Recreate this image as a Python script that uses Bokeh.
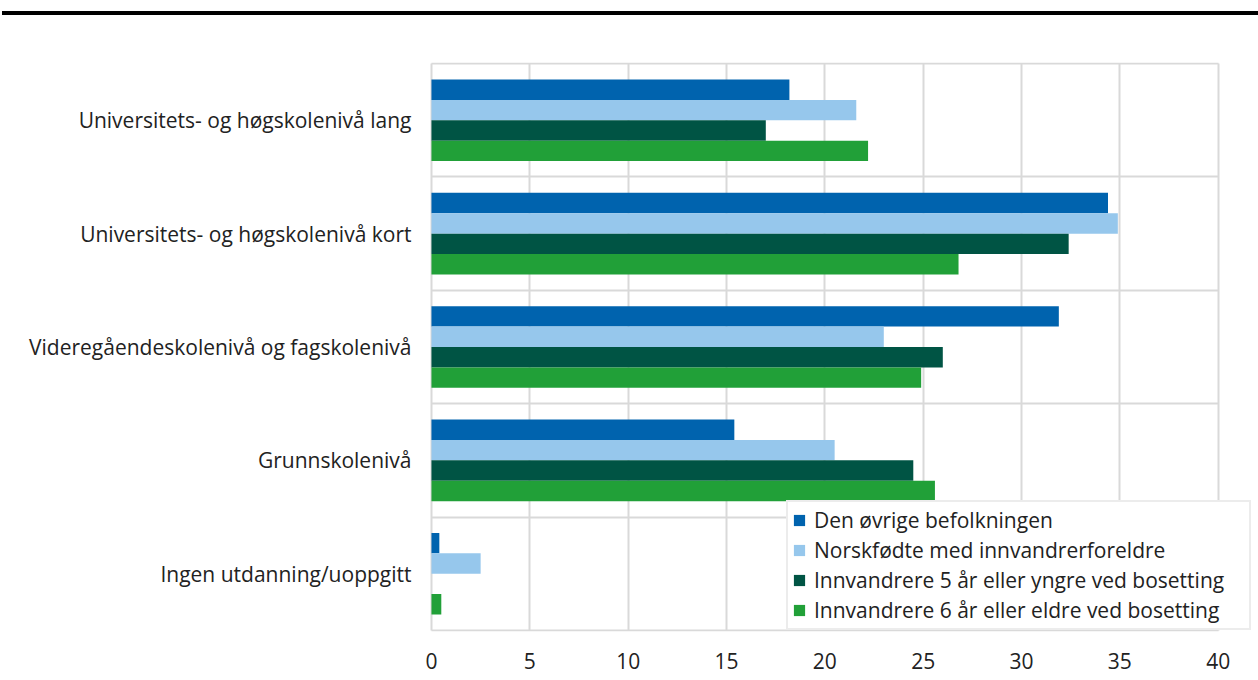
from bokeh.plotting import figure
from bokeh.models import Range1d, FixedTicker, Legend, LegendItem, Div, ColumnDataSource
from bokeh.layouts import column
from bokeh.embed import file_html
from bokeh.resources import INLINE

categories = [
    "Universitets- og høgskolenivå lang",
    "Universitets- og høgskolenivå kort",
    "Videregåendeskolenivå og fagskolenivå",
    "Grunnskolenivå",
    "Ingen utdanning/uoppgitt",
]
series_names = [
    "Den øvrige befolkningen",
    "Norskfødte med innvandrerforeldre",
    "Innvandrere 5 år eller yngre ved bosetting",
    "Innvandrere 6 år eller eldre ved bosetting",
]
den_ovrige = [18.2, 34.4, 31.9, 15.4, 0.4]
norskfodte = [21.6, 34.9, 23.0, 20.5, 2.5]
innv_5 = [17.0, 32.4, 26.0, 24.5, 0.0]
innv_6 = [22.2, 26.8, 24.9, 25.6, 0.5]
x_ticks = [0, 5, 10, 15, 20, 25, 30, 35, 40]

colors = ["#0063ae", "#96c7ec", "#005444", "#21a038"]
values = [den_ovrige, norskfodte, innv_5, innv_6]

n = len(categories)
centers = [n - i - 0.5 for i in range(n)]
bar_h = 0.18
offsets = [1.5 * bar_h, 0.5 * bar_h, -0.5 * bar_h, -1.5 * bar_h]

FONT = "Open Sans"
FS = "21px"
GRID = "#d9d9d9"

# x range extends a little past 40 so the legend box can reach beyond the last gridline
p = figure(
    frame_width=826, frame_height=569,
    min_border_left=429, min_border_right=3, min_border_top=47, min_border_bottom=49,
    x_range=Range1d(-0.1, 41.9), y_range=Range1d(-0.01, n + 0.01),
    output_backend="svg", toolbar_location=None,
)
p.outline_line_color = None
p.background_fill_color = "white"
p.border_fill_color = "white"

renderers = []
for vals, col, off in zip(values, colors, offsets):
    src = ColumnDataSource(dict(y=[c + off for c in centers], right=vals))
    r = p.hbar(y="y", right="right", left=0, height=bar_h, source=src,
               fill_color=col, line_color=None)
    renderers.append(r)

p.xaxis.ticker = FixedTicker(ticks=x_ticks)
p.xaxis.axis_line_color = None
p.xaxis.major_tick_line_color = None
p.xaxis.minor_tick_line_color = None
p.xaxis.major_label_text_font = FONT
p.xaxis.major_label_text_font_size = FS
p.xaxis.major_label_text_color = "#222222"
p.xaxis.major_label_standoff = 15

p.yaxis.ticker = FixedTicker(ticks=centers)
p.yaxis.major_label_overrides = {c: cat for c, cat in zip(centers, categories)}
p.yaxis.axis_line_color = None
p.yaxis.major_tick_line_color = None
p.yaxis.minor_tick_line_color = None
p.yaxis.major_label_text_font = FONT
p.yaxis.major_label_text_font_size = FS
p.yaxis.major_label_text_color = "#222222"
p.yaxis.major_label_standoff = 12

p.xgrid.ticker = FixedTicker(ticks=x_ticks)
p.xgrid.grid_line_color = GRID
p.xgrid.grid_line_width = 2
p.xgrid.cross_bounds = (0, n)
p.ygrid.ticker = FixedTicker(ticks=list(range(n + 1)))
p.ygrid.grid_line_color = GRID
p.ygrid.grid_line_width = 2
p.ygrid.cross_bounds = (0, 40)

legend = Legend(
    items=[LegendItem(label=nm, renderers=[r]) for nm, r in zip(series_names, renderers)],
    location=(357, 1),
    orientation="vertical",
    label_text_font=FONT,
    label_text_font_size=FS,
    label_text_color="#222222",
    glyph_width=14, glyph_height=14,
    label_height=23, label_width=431, spacing=2, padding=4, margin=0,
    label_standoff=8,
    border_line_color=GRID, border_line_width=2,
    background_fill_color="white", background_fill_alpha=1.0,
)
p.add_layout(legend, "center")

rule = Div(text="", width=1256, height=4, margin=(11, 0, 0, 2),
           styles={"background-color": "black"})

layout = column(rule, p, spacing=0)
open("out.html", "w").write(file_html(layout, INLINE))
